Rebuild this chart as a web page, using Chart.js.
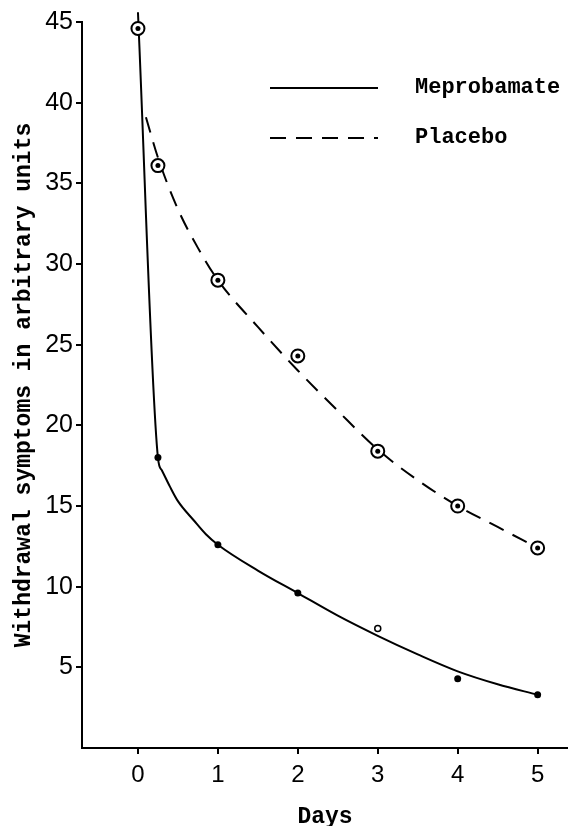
<!DOCTYPE html>
<html>
<head>
<meta charset="utf-8">
<script src="https://cdn.jsdelivr.net/npm/chart.js@4.4.1/dist/chart.umd.min.js"></script>
<style>
  html, body { margin: 0; padding: 0; background: #fff; }
  #wrap { width: 568px; height: 826px; }
</style>
</head>
<body>
<div id="wrap"><canvas id="myChart" width="568" height="826"></canvas></div>
<script>
const seriesNames = ["Meprobamate", "Placebo"];

// observed points
const meproDays = [0, 0.25, 1, 2, 4, 5];
const meproValues = [45.6, 18.0, 12.6, 9.6, 4.3, 3.3];
const meproOpenDays = [3];
const meproOpenValues = [7.4];
const placeboDays = [0, 0.25, 1, 2, 3, 4, 5];
const placeboValues = [44.6, 36.1, 29.0, 24.3, 18.4, 15.0, 12.4];

// hand drawn curves
const meproCurveDays = [0, 0.25, 0.3, 0.4, 0.5, 0.7, 0.85, 1, 1.5, 2, 2.5, 3, 3.5, 4, 4.5, 5];
const meproCurveValues = [45.6, 18.0, 17.2, 16.2, 15.3, 14.1, 13.25, 12.6, 11.0, 9.6, 8.2, 6.95, 5.8, 4.75, 3.95, 3.3];
const placeboCurveDays = [0.1, 0.25, 0.5, 0.75, 1, 1.5, 2, 2.5, 3, 3.5, 4, 4.5, 5];
const placeboCurveValues = [39.1, 36.6, 33.4, 31.0, 29.0, 26.1, 23.4, 20.9, 18.5, 16.6, 15.0, 13.7, 12.4];

const dayTicks = [0, 1, 2, 3, 4, 5];
const symptomTicks = [5, 10, 15, 20, 25, 30, 35, 40, 45];

const xy = (xs, ys) => xs.map((x, i) => ({ x: x, y: ys[i] }));

const mono = "'Liberation Mono', 'DejaVu Sans Mono', monospace";
const sans = "'Liberation Sans', Arial, sans-serif";

// legend drawn as line samples beside the names, like the original
const lineLegend = {
  id: "lineLegend",
  afterDatasetsDraw(chart) {
    const { ctx, chartArea } = chart;
    ctx.save();
    chart.data.datasets.forEach((d) => {
      if (d.legendRow === undefined) return;
      const y = chartArea.top + 66 + d.legendRow * 50;
      ctx.strokeStyle = "#000";
      ctx.lineWidth = d.borderWidth;
      ctx.setLineDash(d.borderDash || []);
      ctx.beginPath();
      ctx.moveTo(chartArea.left + 188, y);
      ctx.lineTo(chartArea.left + 296, y);
      ctx.stroke();
      ctx.setLineDash([]);
      ctx.fillStyle = "#000";
      ctx.font = "bold 22px " + mono;
      ctx.textBaseline = "middle";
      ctx.fillText(d.label, chartArea.left + 333, y - 1);
    });
    ctx.restore();
  },
};

const ctx = document.getElementById("myChart").getContext("2d");

const myChart = new Chart(ctx, {
  type: "scatter",
  data: {
    datasets: [
      {
        label: seriesNames[0],
        data: xy(meproCurveDays, meproCurveValues),
        showLine: true,
        borderColor: "#000",
        borderWidth: 2,
        pointRadius: 0,
        cubicInterpolationMode: "monotone",
        clip: false,
        legendRow: 0,
        order: 5,
      },
      {
        label: seriesNames[1],
        data: xy(placeboCurveDays, placeboCurveValues),
        showLine: true,
        borderColor: "#000",
        borderWidth: 2,
        borderDash: [16, 10],
        pointRadius: 0,
        cubicInterpolationMode: "monotone",
        legendRow: 1,
        order: 5,
      },
      {
        label: seriesNames[0] + " points",
        data: xy(meproDays, meproValues),
        pointRadius: 3.5,
        pointBackgroundColor: "#000",
        pointBorderColor: "#000",
        pointBorderWidth: 0,
        clip: false,
        order: 1,
      },
      {
        label: seriesNames[0] + " open point",
        data: xy(meproOpenDays, meproOpenValues),
        pointRadius: 3,
        pointBackgroundColor: "#fff",
        pointBorderColor: "#000",
        pointBorderWidth: 1.5,
        order: 1,
      },
      {
        label: seriesNames[1] + " rings",
        data: xy(placeboDays, placeboValues),
        pointRadius: 6.5,
        pointBackgroundColor: "#fff",
        pointBorderColor: "#000",
        pointBorderWidth: 2,
        clip: false,
        order: 2,
      },
      {
        label: seriesNames[1] + " points",
        data: xy(placeboDays, placeboValues),
        pointRadius: 2.5,
        pointBackgroundColor: "#000",
        pointBorderColor: "#000",
        pointBorderWidth: 0,
        clip: false,
        order: 1,
      },
    ],
  },
  options: {
    responsive: false,
    animation: false,
    devicePixelRatio: 1,
    layout: { autoPadding: false, padding: { top: 22, left: 0, right: 0, bottom: 0 } },
    scales: {
      x: {
        type: "linear",
        min: -0.7,
        max: 5.38,
        afterBuildTicks: (s) => {
          s.ticks = dayTicks.map((v) => ({ value: v }));
        },
        afterFit: (s) => {
          s.height = 78;
          s.paddingLeft = 0;
          s.paddingRight = 0;
        },
        grid: { drawOnChartArea: false, color: "#000", lineWidth: 2, tickLength: 6 },
        border: { color: "#000", width: 2 },
        ticks: { color: "#000", font: { family: sans, size: 24 }, padding: 7 },
        title: {
          display: true,
          text: "Days",
          color: "#000",
          font: { family: mono, size: 23, weight: "bold", lineHeight: 0.8 },
          padding: 0,
        },
      },
      y: {
        type: "linear",
        min: 0,
        max: 45,
        afterBuildTicks: (s) => {
          s.ticks = symptomTicks.map((v) => ({ value: v }));
        },
        afterFit: (s) => {
          s.width = 82;
        },
        grid: { drawOnChartArea: false, color: "#000", lineWidth: 2, tickLength: 6 },
        border: { color: "#000", width: 2 },
        ticks: { color: "#000", font: { family: sans, size: 25 }, padding: 3 },
        title: {
          display: true,
          text: "Withdrawal symptoms in arbitrary units",
          color: "#000",
          font: { family: mono, size: 23, weight: "bold" },
          padding: { top: 10, bottom: 0 },
        },
      },
    },
    plugins: {
      legend: { display: false },
      tooltip: { enabled: false },
    },
  },
  plugins: [lineLegend],
});
</script>
</body>
</html>
